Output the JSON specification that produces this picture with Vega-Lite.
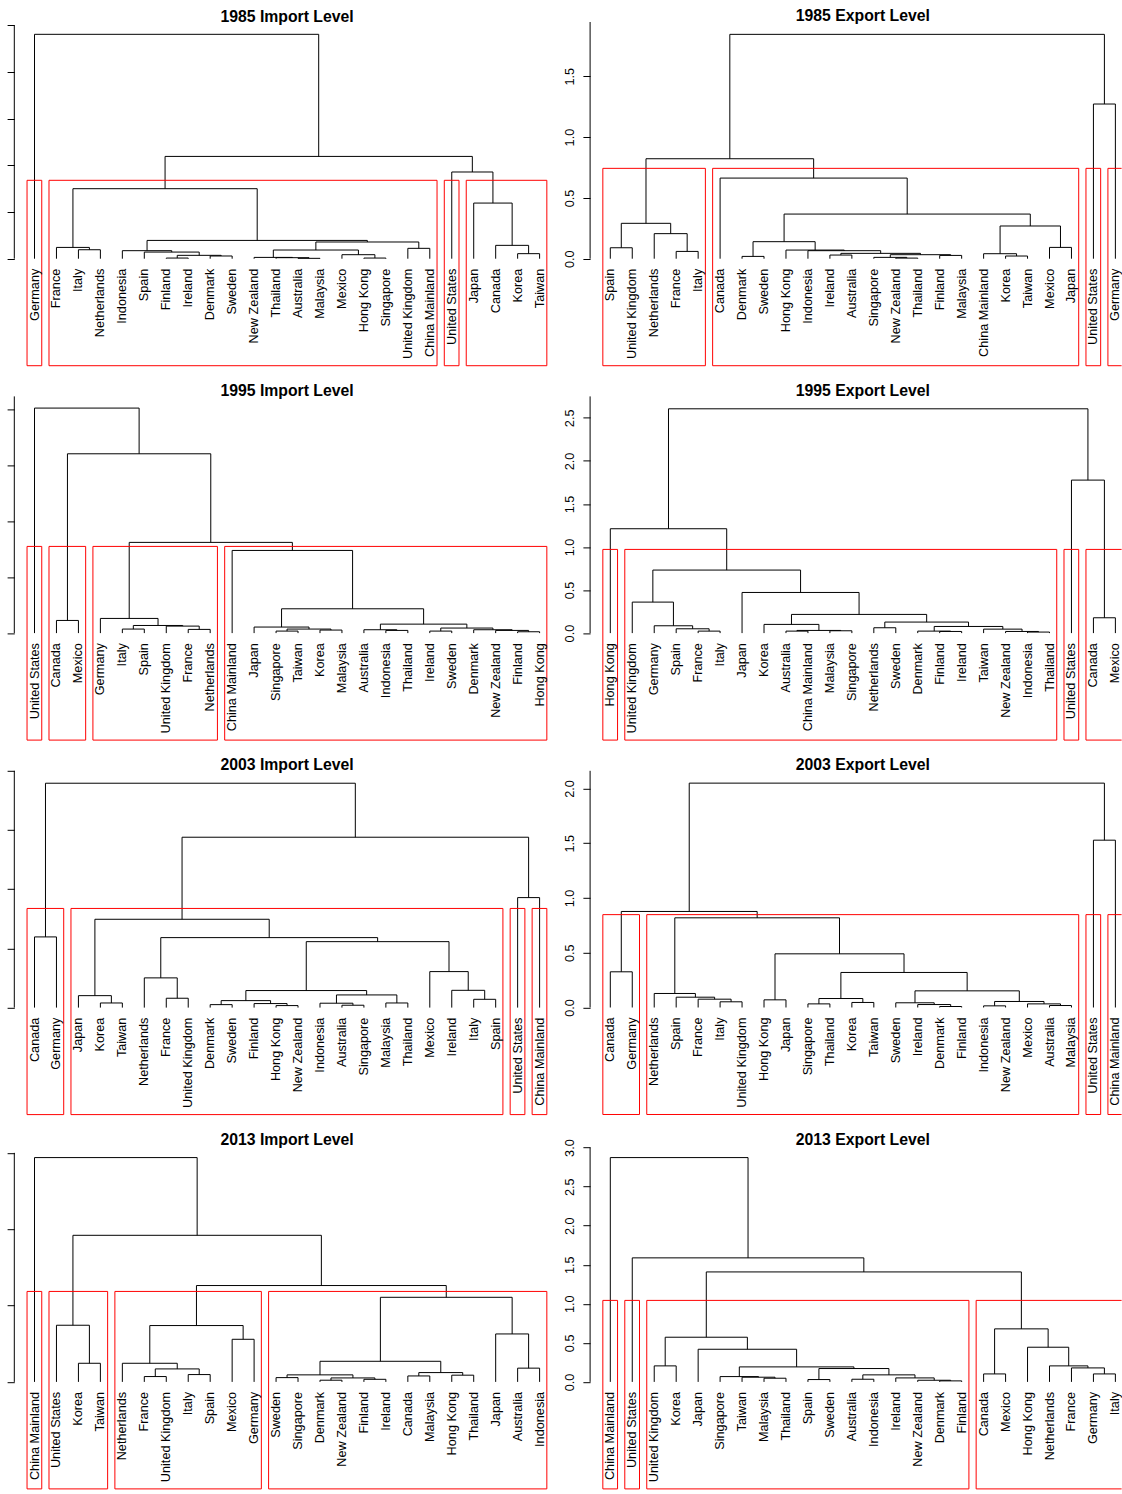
{
"$schema": "https://vega.github.io/schema/vega-lite/v6.json",
"background": "white",
"padding": {"left": 6.3, "top": 8, "right": 0, "bottom": 0},
"columns": 2,
"spacing": {"row": 28.4, "column": 29.8},
"bounds": "flush",
"config": {
 "view": {"stroke": null},
 "font": "Liberation Sans",
 "title": {"font": "Liberation Sans", "fontSize": 15.8, "fontWeight": "bold", "color": "black", "anchor": "middle", "baseline": "alphabetic", "offset": -3.5, "frame": "group"},
 "axis": {"domain": false, "grid": false, "ticks": true, "tickColor": "black", "tickSize": 7.2, "tickWidth": 1, "labelFont": "Liberation Sans", "labelFontSize": 12.7, "labelColor": "black", "title": null}
},
"datasets": {
"merges": [
{"p":"A","xl":3,"xr":4,"h":0.096,"hl":0,"hr":0},
{"p":"A","xl":2,"xr":3.5,"h":0.121,"hl":0,"hr":0.096},
{"p":"A","xl":7,"xr":8,"h":0.007,"hl":0,"hr":0},
{"p":"A","xl":9,"xr":10,"h":0.029,"hl":0,"hr":0},
{"p":"A","xl":7.5,"xr":9.5,"h":0.036,"hl":0.007,"hr":0.029},
{"p":"A","xl":6,"xr":8.5,"h":0.071,"hl":0,"hr":0.036},
{"p":"A","xl":5,"xr":7.25,"h":0.086,"hl":0,"hr":0.071},
{"p":"A","xl":13,"xr":14,"h":0.004,"hl":0,"hr":0},
{"p":"A","xl":12,"xr":13.5,"h":0.011,"hl":0,"hr":0.004},
{"p":"A","xl":11,"xr":12.75,"h":0.014,"hl":0,"hr":0.011},
{"p":"A","xl":16,"xr":17,"h":0.007,"hl":0,"hr":0},
{"p":"A","xl":15,"xr":16.5,"h":0.043,"hl":0,"hr":0.007},
{"p":"A","xl":11.875,"xr":15.75,"h":0.093,"hl":0.014,"hr":0.043},
{"p":"A","xl":18,"xr":19,"h":0.111,"hl":0,"hr":0},
{"p":"A","xl":13.8125,"xr":18.5,"h":0.179,"hl":0.093,"hr":0.111},
{"p":"A","xl":6.125,"xr":16.15625,"h":0.196,"hl":0.086,"hr":0.179},
{"p":"A","xl":2.75,"xr":11.140625,"h":0.75,"hl":0.121,"hr":0.196},
{"p":"A","xl":23,"xr":24,"h":0.054,"hl":0,"hr":0},
{"p":"A","xl":22,"xr":23.5,"h":0.143,"hl":0,"hr":0.054},
{"p":"A","xl":21,"xr":22.75,"h":0.596,"hl":0,"hr":0.143},
{"p":"A","xl":20,"xr":21.875,"h":0.929,"hl":0,"hr":0.596},
{"p":"A","xl":6.9453,"xr":20.9375,"h":1.096,"hl":0.75,"hr":0.929},
{"p":"A","xl":1,"xr":13.9414,"h":2.404,"hl":0,"hr":1.096},
{"p":"B","xl":1,"xr":2,"h":0.090,"hl":0,"hr":0},
{"p":"B","xl":4,"xr":5,"h":0.060,"hl":0,"hr":0},
{"p":"B","xl":3,"xr":4.5,"h":0.206,"hl":0,"hr":0.060},
{"p":"B","xl":1.5,"xr":3.75,"h":0.291,"hl":0.090,"hr":0.206},
{"p":"B","xl":7,"xr":8,"h":0.019,"hl":0,"hr":0},
{"p":"B","xl":11,"xr":12,"h":0.030,"hl":0,"hr":0},
{"p":"B","xl":14,"xr":15,"h":0.005,"hl":0,"hr":0},
{"p":"B","xl":13,"xr":14.5,"h":0.011,"hl":0,"hr":0.005},
{"p":"B","xl":16,"xr":17,"h":0.027,"hl":0,"hr":0},
{"p":"B","xl":13.75,"xr":16.5,"h":0.033,"hl":0.011,"hr":0.027},
{"p":"B","xl":11.5,"xr":15.125,"h":0.044,"hl":0.030,"hr":0.033},
{"p":"B","xl":10,"xr":13.3125,"h":0.066,"hl":0,"hr":0.044},
{"p":"B","xl":9,"xr":11.65625,"h":0.071,"hl":0,"hr":0.066},
{"p":"B","xl":7.5,"xr":10.328,"h":0.140,"hl":0.019,"hr":0.071},
{"p":"B","xl":19,"xr":20,"h":0.022,"hl":0,"hr":0},
{"p":"B","xl":18,"xr":19.5,"h":0.041,"hl":0,"hr":0.022},
{"p":"B","xl":21,"xr":22,"h":0.093,"hl":0,"hr":0},
{"p":"B","xl":18.75,"xr":21.5,"h":0.269,"hl":0.041,"hr":0.093},
{"p":"B","xl":8.914,"xr":20.125,"h":0.367,"hl":0.140,"hr":0.269},
{"p":"B","xl":6,"xr":14.52,"h":0.663,"hl":0,"hr":0.367},
{"p":"B","xl":2.625,"xr":10.26,"h":0.822,"hl":0.291,"hr":0.663},
{"p":"B","xl":23,"xr":24,"h":1.272,"hl":0,"hr":0},
{"p":"B","xl":6.4425,"xr":23.5,"h":1.845,"hl":0.822,"hr":1.272},
{"p":"C","xl":2,"xr":3,"h":0.113,"hl":0,"hr":0},
{"p":"C","xl":5,"xr":6,"h":0.036,"hl":0,"hr":0},
{"p":"C","xl":8,"xr":9,"h":0.033,"hl":0,"hr":0},
{"p":"C","xl":7,"xr":8.5,"h":0.0625,"hl":0,"hr":0.033},
{"p":"C","xl":5.5,"xr":7.75,"h":0.068,"hl":0.036,"hr":0.0625},
{"p":"C","xl":4,"xr":6.625,"h":0.131,"hl":0,"hr":0.068},
{"p":"C","xl":12,"xr":13,"h":0.018,"hl":0,"hr":0},
{"p":"C","xl":14,"xr":15,"h":0.027,"hl":0,"hr":0},
{"p":"C","xl":12.5,"xr":14.5,"h":0.036,"hl":0.018,"hr":0.027},
{"p":"C","xl":11,"xr":13.5,"h":0.054,"hl":0,"hr":0.036},
{"p":"C","xl":17,"xr":18,"h":0.024,"hl":0,"hr":0},
{"p":"C","xl":16,"xr":17.5,"h":0.030,"hl":0,"hr":0.024},
{"p":"C","xl":19,"xr":20,"h":0.018,"hl":0,"hr":0},
{"p":"C","xl":23,"xr":24,"h":0.012,"hl":0,"hr":0},
{"p":"C","xl":22,"xr":23.5,"h":0.024,"hl":0,"hr":0.012},
{"p":"C","xl":21,"xr":22.75,"h":0.030,"hl":0,"hr":0.024},
{"p":"C","xl":19.5,"xr":21.875,"h":0.045,"hl":0.018,"hr":0.030},
{"p":"C","xl":16.75,"xr":20.6875,"h":0.080,"hl":0.030,"hr":0.045},
{"p":"C","xl":12.25,"xr":18.71875,"h":0.217,"hl":0.054,"hr":0.080},
{"p":"C","xl":10,"xr":15.484,"h":0.738,"hl":0,"hr":0.217},
{"p":"C","xl":5.3125,"xr":12.742,"h":0.810,"hl":0.131,"hr":0.738},
{"p":"C","xl":2.5,"xr":9.027,"h":1.601,"hl":0.113,"hr":0.810},
{"p":"C","xl":1,"xr":5.764,"h":2.009,"hl":0,"hr":1.601},
{"p":"D","xl":5,"xr":6,"h":0.023,"hl":0,"hr":0},
{"p":"D","xl":4,"xr":5.5,"h":0.050,"hl":0,"hr":0.023},
{"p":"D","xl":3,"xr":4.75,"h":0.085,"hl":0,"hr":0.050},
{"p":"D","xl":2,"xr":3.875,"h":0.360,"hl":0,"hr":0.085},
{"p":"D","xl":9,"xr":10,"h":0.023,"hl":0,"hr":0},
{"p":"D","xl":11,"xr":12,"h":0.027,"hl":0,"hr":0},
{"p":"D","xl":9.5,"xr":11.5,"h":0.031,"hl":0.023,"hr":0.027},
{"p":"D","xl":8,"xr":10.5,"h":0.101,"hl":0,"hr":0.031},
{"p":"D","xl":13,"xr":14,"h":0.062,"hl":0,"hr":0},
{"p":"D","xl":16,"xr":17,"h":0.019,"hl":0,"hr":0},
{"p":"D","xl":15,"xr":16.5,"h":0.023,"hl":0,"hr":0.019},
{"p":"D","xl":20,"xr":21,"h":0.012,"hl":0,"hr":0},
{"p":"D","xl":19,"xr":20.5,"h":0.019,"hl":0,"hr":0.012},
{"p":"D","xl":18,"xr":19.75,"h":0.046,"hl":0,"hr":0.019},
{"p":"D","xl":15.75,"xr":18.875,"h":0.077,"hl":0.023,"hr":0.046},
{"p":"D","xl":13.5,"xr":17.3125,"h":0.128,"hl":0.062,"hr":0.077},
{"p":"D","xl":9.25,"xr":15.406,"h":0.217,"hl":0.101,"hr":0.128},
{"p":"D","xl":7,"xr":12.328,"h":0.472,"hl":0,"hr":0.217},
{"p":"D","xl":2.9375,"xr":9.664,"h":0.732,"hl":0.360,"hr":0.472},
{"p":"D","xl":1,"xr":6.301,"h":1.212,"hl":0,"hr":0.732},
{"p":"D","xl":23,"xr":24,"h":0.178,"hl":0,"hr":0},
{"p":"D","xl":22,"xr":23.5,"h":1.777,"hl":0,"hr":0.178},
{"p":"D","xl":3.65,"xr":22.75,"h":2.605,"hl":1.212,"hr":1.777},
{"p":"E","xl":1,"xr":2,"h":0.597,"hl":0,"hr":0},
{"p":"E","xl":4,"xr":5,"h":0.039,"hl":0,"hr":0},
{"p":"E","xl":3,"xr":4.5,"h":0.101,"hl":0,"hr":0.039},
{"p":"E","xl":7,"xr":8,"h":0.079,"hl":0,"hr":0},
{"p":"E","xl":6,"xr":7.5,"h":0.251,"hl":0,"hr":0.079},
{"p":"E","xl":9,"xr":10,"h":0.025,"hl":0,"hr":0},
{"p":"E","xl":12,"xr":13,"h":0.017,"hl":0,"hr":0},
{"p":"E","xl":11,"xr":12.5,"h":0.034,"hl":0,"hr":0.017},
{"p":"E","xl":9.5,"xr":11.75,"h":0.059,"hl":0.025,"hr":0.034},
{"p":"E","xl":15,"xr":16,"h":0.020,"hl":0,"hr":0},
{"p":"E","xl":14,"xr":15.5,"h":0.037,"hl":0,"hr":0.020},
{"p":"E","xl":17,"xr":18,"h":0.039,"hl":0,"hr":0},
{"p":"E","xl":14.75,"xr":17.5,"h":0.107,"hl":0.037,"hr":0.039},
{"p":"E","xl":10.625,"xr":16.125,"h":0.144,"hl":0.059,"hr":0.107},
{"p":"E","xl":21,"xr":22,"h":0.070,"hl":0,"hr":0},
{"p":"E","xl":20,"xr":21.5,"h":0.146,"hl":0,"hr":0.070},
{"p":"E","xl":19,"xr":20.75,"h":0.304,"hl":0,"hr":0.146},
{"p":"E","xl":13.375,"xr":19.875,"h":0.557,"hl":0.144,"hr":0.304},
{"p":"E","xl":6.75,"xr":16.625,"h":0.591,"hl":0.251,"hr":0.557},
{"p":"E","xl":3.75,"xr":11.6875,"h":0.746,"hl":0.101,"hr":0.591},
{"p":"E","xl":23,"xr":24,"h":0.929,"hl":0,"hr":0},
{"p":"E","xl":7.71875,"xr":23.5,"h":1.439,"hl":0.746,"hr":0.929},
{"p":"E","xl":1.5,"xr":15.609,"h":1.895,"hl":0.597,"hr":1.439},
{"p":"F","xl":1,"xr":2,"h":0.326,"hl":0,"hr":0},
{"p":"F","xl":6,"xr":7,"h":0.052,"hl":0,"hr":0},
{"p":"F","xl":5,"xr":6.5,"h":0.076,"hl":0,"hr":0.052},
{"p":"F","xl":4,"xr":5.75,"h":0.094,"hl":0,"hr":0.076},
{"p":"F","xl":3,"xr":4.875,"h":0.128,"hl":0,"hr":0.094},
{"p":"F","xl":8,"xr":9,"h":0.070,"hl":0,"hr":0},
{"p":"F","xl":10,"xr":11,"h":0.033,"hl":0,"hr":0},
{"p":"F","xl":12,"xr":13,"h":0.046,"hl":0,"hr":0},
{"p":"F","xl":10.5,"xr":12.5,"h":0.082,"hl":0.033,"hr":0.046},
{"p":"F","xl":16,"xr":17,"h":0.009,"hl":0,"hr":0},
{"p":"F","xl":15,"xr":16.5,"h":0.027,"hl":0,"hr":0.009},
{"p":"F","xl":14,"xr":15.75,"h":0.043,"hl":0,"hr":0.027},
{"p":"F","xl":21,"xr":22,"h":0.018,"hl":0,"hr":0},
{"p":"F","xl":20,"xr":21.5,"h":0.033,"hl":0,"hr":0.018},
{"p":"F","xl":18,"xr":19,"h":0.015,"hl":0,"hr":0},
{"p":"F","xl":18.5,"xr":20.75,"h":0.055,"hl":0.015,"hr":0.033},
{"p":"F","xl":14.875,"xr":19.625,"h":0.152,"hl":0.043,"hr":0.055},
{"p":"F","xl":11.5,"xr":17.25,"h":0.320,"hl":0.082,"hr":0.152},
{"p":"F","xl":8.5,"xr":14.375,"h":0.490,"hl":0.070,"hr":0.320},
{"p":"F","xl":3.9375,"xr":11.4375,"h":0.819,"hl":0.128,"hr":0.490},
{"p":"F","xl":1.5,"xr":7.6875,"h":0.877,"hl":0.326,"hr":0.819},
{"p":"F","xl":23,"xr":24,"h":1.528,"hl":0,"hr":0},
{"p":"F","xl":4.59375,"xr":23.5,"h":2.049,"hl":0.877,"hr":1.528},
{"p":"G","xl":3,"xr":4,"h":0.122,"hl":0,"hr":0},
{"p":"G","xl":2,"xr":3.5,"h":0.371,"hl":0,"hr":0.122},
{"p":"G","xl":6,"xr":7,"h":0.035,"hl":0,"hr":0},
{"p":"G","xl":8,"xr":9,"h":0.048,"hl":0,"hr":0},
{"p":"G","xl":6.5,"xr":8.5,"h":0.085,"hl":0.035,"hr":0.048},
{"p":"G","xl":5,"xr":7.5,"h":0.122,"hl":0,"hr":0.085},
{"p":"G","xl":10,"xr":11,"h":0.279,"hl":0,"hr":0},
{"p":"G","xl":6.25,"xr":10.5,"h":0.369,"hl":0.122,"hr":0.279},
{"p":"G","xl":12,"xr":13,"h":0.028,"hl":0,"hr":0},
{"p":"G","xl":14,"xr":15,"h":0.011,"hl":0,"hr":0},
{"p":"G","xl":16,"xr":17,"h":0.017,"hl":0,"hr":0},
{"p":"G","xl":14.5,"xr":16.5,"h":0.026,"hl":0.011,"hr":0.017},
{"p":"G","xl":12.5,"xr":15.5,"h":0.046,"hl":0.028,"hr":0.026},
{"p":"G","xl":18,"xr":19,"h":0.039,"hl":0,"hr":0},
{"p":"G","xl":20,"xr":21,"h":0.044,"hl":0,"hr":0},
{"p":"G","xl":18.5,"xr":20.5,"h":0.061,"hl":0.039,"hr":0.044},
{"p":"G","xl":14,"xr":19.5,"h":0.135,"hl":0.046,"hr":0.061},
{"p":"G","xl":23,"xr":24,"h":0.090,"hl":0,"hr":0},
{"p":"G","xl":22,"xr":23.5,"h":0.314,"hl":0,"hr":0.090},
{"p":"G","xl":16.75,"xr":22.75,"h":0.554,"hl":0.135,"hr":0.314},
{"p":"G","xl":8.375,"xr":19.75,"h":0.631,"hl":0.369,"hr":0.554},
{"p":"G","xl":2.75,"xr":14.0625,"h":0.960,"hl":0.371,"hr":0.631},
{"p":"G","xl":1,"xr":8.40625,"h":1.469,"hl":0,"hr":0.960},
{"p":"H","xl":3,"xr":4,"h":0.205,"hl":0,"hr":0},
{"p":"H","xl":8,"xr":9,"h":0.047,"hl":0,"hr":0},
{"p":"H","xl":7,"xr":8.5,"h":0.060,"hl":0,"hr":0.047},
{"p":"H","xl":6,"xr":7.75,"h":0.068,"hl":0,"hr":0.060},
{"p":"H","xl":10,"xr":11,"h":0.030,"hl":0,"hr":0},
{"p":"H","xl":12,"xr":13,"h":0.034,"hl":0,"hr":0},
{"p":"H","xl":16,"xr":17,"h":0.013,"hl":0,"hr":0},
{"p":"H","xl":15,"xr":16.5,"h":0.021,"hl":0,"hr":0.013},
{"p":"H","xl":14,"xr":15.75,"h":0.051,"hl":0,"hr":0.021},
{"p":"H","xl":12.5,"xr":14.875,"h":0.090,"hl":0.034,"hr":0.051},
{"p":"H","xl":10.5,"xr":13.6875,"h":0.171,"hl":0.030,"hr":0.090},
{"p":"H","xl":6.875,"xr":12.09375,"h":0.192,"hl":0.068,"hr":0.171},
{"p":"H","xl":5,"xr":9.484,"h":0.418,"hl":0,"hr":0.192},
{"p":"H","xl":3.5,"xr":7.242,"h":0.572,"hl":0.205,"hr":0.418},
{"p":"H","xl":18,"xr":19,"h":0.102,"hl":0,"hr":0},
{"p":"H","xl":23,"xr":24,"h":0.102,"hl":0,"hr":0},
{"p":"H","xl":22,"xr":23.5,"h":0.179,"hl":0,"hr":0.102},
{"p":"H","xl":21,"xr":22.75,"h":0.205,"hl":0,"hr":0.179},
{"p":"H","xl":20,"xr":21.875,"h":0.444,"hl":0,"hr":0.205},
{"p":"H","xl":18.5,"xr":20.9375,"h":0.679,"hl":0.102,"hr":0.444},
{"p":"H","xl":5.371,"xr":19.71875,"h":1.408,"hl":0.572,"hr":0.679},
{"p":"H","xl":2,"xr":12.545,"h":1.588,"hl":0,"hr":1.408},
{"p":"H","xl":1,"xr":7.2725,"h":2.872,"hl":0,"hr":1.588}
],
"boxes": [
{"p":"A","a":0.66,"b":1.33,"top":0.84},{"p":"A","a":1.66,"b":19.33,"top":0.84},{"p":"A","a":19.66,"b":20.33,"top":0.84},{"p":"A","a":20.66,"b":24.33,"top":0.84},
{"p":"B","a":0.66,"b":5.33,"top":0.743},{"p":"B","a":5.66,"b":22.33,"top":0.743},{"p":"B","a":22.66,"b":23.33,"top":0.743},{"p":"B","a":23.66,"b":24.33,"top":0.743},
{"p":"C","a":0.66,"b":1.33,"top":0.774},{"p":"C","a":1.66,"b":3.33,"top":0.774},{"p":"C","a":3.66,"b":9.33,"top":0.774},{"p":"C","a":9.66,"b":24.33,"top":0.774},
{"p":"D","a":0.66,"b":1.33,"top":0.972},{"p":"D","a":1.66,"b":21.33,"top":0.972},{"p":"D","a":21.66,"b":22.33,"top":0.972},{"p":"D","a":22.66,"b":24.33,"top":0.972},
{"p":"E","a":0.66,"b":2.33,"top":0.8375},{"p":"E","a":2.66,"b":22.33,"top":0.8375},{"p":"E","a":22.66,"b":23.33,"top":0.8375},{"p":"E","a":23.66,"b":24.33,"top":0.8375},
{"p":"F","a":0.66,"b":2.33,"top":0.848},{"p":"F","a":2.66,"b":22.33,"top":0.848},{"p":"F","a":22.66,"b":23.33,"top":0.848},{"p":"F","a":23.66,"b":24.33,"top":0.848},
{"p":"G","a":0.66,"b":1.33,"top":0.5925},{"p":"G","a":1.66,"b":4.33,"top":0.5925},{"p":"G","a":4.66,"b":11.33,"top":0.5925},{"p":"G","a":11.66,"b":24.33,"top":0.5925},
{"p":"H","a":0.66,"b":1.33,"top":1.0435},{"p":"H","a":1.66,"b":2.33,"top":1.0435},{"p":"H","a":2.66,"b":17.33,"top":1.0435},{"p":"H","a":17.66,"b":24.33,"top":1.0435}
],
"axes": [
{"p":"A","top":2.5},{"p":"B","top":1.9465},{"p":"C","top":2.1134},{"p":"D","top":2.7491},
{"p":"E","top":2.0},{"p":"F","top":2.1616},{"p":"G","top":1.5},{"p":"H","top":3.0}
],
"leaves": [
{"p":"A","i":1,"name":"Germany"},{"p":"A","i":2,"name":"France"},{"p":"A","i":3,"name":"Italy"},{"p":"A","i":4,"name":"Netherlands"},{"p":"A","i":5,"name":"Indonesia"},{"p":"A","i":6,"name":"Spain"},{"p":"A","i":7,"name":"Finland"},{"p":"A","i":8,"name":"Ireland"},{"p":"A","i":9,"name":"Denmark"},{"p":"A","i":10,"name":"Sweden"},{"p":"A","i":11,"name":"New Zealand"},{"p":"A","i":12,"name":"Thailand"},{"p":"A","i":13,"name":"Australia"},{"p":"A","i":14,"name":"Malaysia"},{"p":"A","i":15,"name":"Mexico"},{"p":"A","i":16,"name":"Hong Kong"},{"p":"A","i":17,"name":"Singapore"},{"p":"A","i":18,"name":"United Kingdom"},{"p":"A","i":19,"name":"China Mainland"},{"p":"A","i":20,"name":"United States"},{"p":"A","i":21,"name":"Japan"},{"p":"A","i":22,"name":"Canada"},{"p":"A","i":23,"name":"Korea"},{"p":"A","i":24,"name":"Taiwan"},
{"p":"B","i":1,"name":"Spain"},{"p":"B","i":2,"name":"United Kingdom"},{"p":"B","i":3,"name":"Netherlands"},{"p":"B","i":4,"name":"France"},{"p":"B","i":5,"name":"Italy"},{"p":"B","i":6,"name":"Canada"},{"p":"B","i":7,"name":"Denmark"},{"p":"B","i":8,"name":"Sweden"},{"p":"B","i":9,"name":"Hong Kong"},{"p":"B","i":10,"name":"Indonesia"},{"p":"B","i":11,"name":"Ireland"},{"p":"B","i":12,"name":"Australia"},{"p":"B","i":13,"name":"Singapore"},{"p":"B","i":14,"name":"New Zealand"},{"p":"B","i":15,"name":"Thailand"},{"p":"B","i":16,"name":"Finland"},{"p":"B","i":17,"name":"Malaysia"},{"p":"B","i":18,"name":"China Mainland"},{"p":"B","i":19,"name":"Korea"},{"p":"B","i":20,"name":"Taiwan"},{"p":"B","i":21,"name":"Mexico"},{"p":"B","i":22,"name":"Japan"},{"p":"B","i":23,"name":"United States"},{"p":"B","i":24,"name":"Germany"},
{"p":"C","i":1,"name":"United States"},{"p":"C","i":2,"name":"Canada"},{"p":"C","i":3,"name":"Mexico"},{"p":"C","i":4,"name":"Germany"},{"p":"C","i":5,"name":"Italy"},{"p":"C","i":6,"name":"Spain"},{"p":"C","i":7,"name":"United Kingdom"},{"p":"C","i":8,"name":"France"},{"p":"C","i":9,"name":"Netherlands"},{"p":"C","i":10,"name":"China Mainland"},{"p":"C","i":11,"name":"Japan"},{"p":"C","i":12,"name":"Singapore"},{"p":"C","i":13,"name":"Taiwan"},{"p":"C","i":14,"name":"Korea"},{"p":"C","i":15,"name":"Malaysia"},{"p":"C","i":16,"name":"Australia"},{"p":"C","i":17,"name":"Indonesia"},{"p":"C","i":18,"name":"Thailand"},{"p":"C","i":19,"name":"Ireland"},{"p":"C","i":20,"name":"Sweden"},{"p":"C","i":21,"name":"Denmark"},{"p":"C","i":22,"name":"New Zealand"},{"p":"C","i":23,"name":"Finland"},{"p":"C","i":24,"name":"Hong Kong"},
{"p":"D","i":1,"name":"Hong Kong"},{"p":"D","i":2,"name":"United Kingdom"},{"p":"D","i":3,"name":"Germany"},{"p":"D","i":4,"name":"Spain"},{"p":"D","i":5,"name":"France"},{"p":"D","i":6,"name":"Italy"},{"p":"D","i":7,"name":"Japan"},{"p":"D","i":8,"name":"Korea"},{"p":"D","i":9,"name":"Australia"},{"p":"D","i":10,"name":"China Mainland"},{"p":"D","i":11,"name":"Malaysia"},{"p":"D","i":12,"name":"Singapore"},{"p":"D","i":13,"name":"Netherlands"},{"p":"D","i":14,"name":"Sweden"},{"p":"D","i":15,"name":"Denmark"},{"p":"D","i":16,"name":"Finland"},{"p":"D","i":17,"name":"Ireland"},{"p":"D","i":18,"name":"Taiwan"},{"p":"D","i":19,"name":"New Zealand"},{"p":"D","i":20,"name":"Indonesia"},{"p":"D","i":21,"name":"Thailand"},{"p":"D","i":22,"name":"United States"},{"p":"D","i":23,"name":"Canada"},{"p":"D","i":24,"name":"Mexico"},
{"p":"E","i":1,"name":"Canada"},{"p":"E","i":2,"name":"Germany"},{"p":"E","i":3,"name":"Japan"},{"p":"E","i":4,"name":"Korea"},{"p":"E","i":5,"name":"Taiwan"},{"p":"E","i":6,"name":"Netherlands"},{"p":"E","i":7,"name":"France"},{"p":"E","i":8,"name":"United Kingdom"},{"p":"E","i":9,"name":"Denmark"},{"p":"E","i":10,"name":"Sweden"},{"p":"E","i":11,"name":"Finland"},{"p":"E","i":12,"name":"Hong Kong"},{"p":"E","i":13,"name":"New Zealand"},{"p":"E","i":14,"name":"Indonesia"},{"p":"E","i":15,"name":"Australia"},{"p":"E","i":16,"name":"Singapore"},{"p":"E","i":17,"name":"Malaysia"},{"p":"E","i":18,"name":"Thailand"},{"p":"E","i":19,"name":"Mexico"},{"p":"E","i":20,"name":"Ireland"},{"p":"E","i":21,"name":"Italy"},{"p":"E","i":22,"name":"Spain"},{"p":"E","i":23,"name":"United States"},{"p":"E","i":24,"name":"China Mainland"},
{"p":"F","i":1,"name":"Canada"},{"p":"F","i":2,"name":"Germany"},{"p":"F","i":3,"name":"Netherlands"},{"p":"F","i":4,"name":"Spain"},{"p":"F","i":5,"name":"France"},{"p":"F","i":6,"name":"Italy"},{"p":"F","i":7,"name":"United Kingdom"},{"p":"F","i":8,"name":"Hong Kong"},{"p":"F","i":9,"name":"Japan"},{"p":"F","i":10,"name":"Singapore"},{"p":"F","i":11,"name":"Thailand"},{"p":"F","i":12,"name":"Korea"},{"p":"F","i":13,"name":"Taiwan"},{"p":"F","i":14,"name":"Sweden"},{"p":"F","i":15,"name":"Ireland"},{"p":"F","i":16,"name":"Denmark"},{"p":"F","i":17,"name":"Finland"},{"p":"F","i":18,"name":"Indonesia"},{"p":"F","i":19,"name":"New Zealand"},{"p":"F","i":20,"name":"Mexico"},{"p":"F","i":21,"name":"Australia"},{"p":"F","i":22,"name":"Malaysia"},{"p":"F","i":23,"name":"United States"},{"p":"F","i":24,"name":"China Mainland"},
{"p":"G","i":1,"name":"China Mainland"},{"p":"G","i":2,"name":"United States"},{"p":"G","i":3,"name":"Korea"},{"p":"G","i":4,"name":"Taiwan"},{"p":"G","i":5,"name":"Netherlands"},{"p":"G","i":6,"name":"France"},{"p":"G","i":7,"name":"United Kingdom"},{"p":"G","i":8,"name":"Italy"},{"p":"G","i":9,"name":"Spain"},{"p":"G","i":10,"name":"Mexico"},{"p":"G","i":11,"name":"Germany"},{"p":"G","i":12,"name":"Sweden"},{"p":"G","i":13,"name":"Singapore"},{"p":"G","i":14,"name":"Denmark"},{"p":"G","i":15,"name":"New Zealand"},{"p":"G","i":16,"name":"Finland"},{"p":"G","i":17,"name":"Ireland"},{"p":"G","i":18,"name":"Canada"},{"p":"G","i":19,"name":"Malaysia"},{"p":"G","i":20,"name":"Hong Kong"},{"p":"G","i":21,"name":"Thailand"},{"p":"G","i":22,"name":"Japan"},{"p":"G","i":23,"name":"Australia"},{"p":"G","i":24,"name":"Indonesia"},
{"p":"H","i":1,"name":"China Mainland"},{"p":"H","i":2,"name":"United States"},{"p":"H","i":3,"name":"United Kingdom"},{"p":"H","i":4,"name":"Korea"},{"p":"H","i":5,"name":"Japan"},{"p":"H","i":6,"name":"Singapore"},{"p":"H","i":7,"name":"Taiwan"},{"p":"H","i":8,"name":"Malaysia"},{"p":"H","i":9,"name":"Thailand"},{"p":"H","i":10,"name":"Spain"},{"p":"H","i":11,"name":"Sweden"},{"p":"H","i":12,"name":"Australia"},{"p":"H","i":13,"name":"Indonesia"},{"p":"H","i":14,"name":"Ireland"},{"p":"H","i":15,"name":"New Zealand"},{"p":"H","i":16,"name":"Denmark"},{"p":"H","i":17,"name":"Finland"},{"p":"H","i":18,"name":"Canada"},{"p":"H","i":19,"name":"Mexico"},{"p":"H","i":20,"name":"Hong Kong"},{"p":"H","i":21,"name":"Netherlands"},{"p":"H","i":22,"name":"France"},{"p":"H","i":23,"name":"Germany"},{"p":"H","i":24,"name":"Italy"}
]
},
"concat": [
{"width": 545.5, "height": 346, "title": {"text": "1985 Import Level"},
 "layer": [
  {"data": {"name": "merges"}, "transform": [{"filter": "datum.p == 'A'"}], "mark": {"type": "rule", "color": "black", "strokeWidth": 1},
   "encoding": {"x": {"field": "xl", "type": "quantitative", "scale": {"domain": [0.08, 24.92], "nice": false, "zero": false}, "axis": null}, "x2": {"field": "xr"},
    "y": {"field": "h", "type": "quantitative", "scale": {"domain": [-1.171, 2.536], "nice": false, "zero": false}, "axis": {"values": [0, 0.5, 1, 1.5, 2, 2.5], "labels": false, "title": null}}}},
  {"data": {"name": "merges"}, "transform": [{"filter": "datum.p == 'A'"}], "mark": {"type": "rule", "color": "black", "strokeWidth": 1},
   "encoding": {"x": {"field": "xl", "type": "quantitative", "axis": null}, "y": {"field": "hl", "type": "quantitative", "title": null}, "y2": {"field": "h"}}},
  {"data": {"name": "merges"}, "transform": [{"filter": "datum.p == 'A'"}], "mark": {"type": "rule", "color": "black", "strokeWidth": 1},
   "encoding": {"x": {"field": "xr", "type": "quantitative", "axis": null}, "y": {"field": "hr", "type": "quantitative", "title": null}, "y2": {"field": "h"}}},
  {"data": {"name": "boxes"}, "transform": [{"filter": "datum.p == 'A'"}], "mark": {"type": "rect", "filled": false, "color": "#FF0000", "strokeWidth": 1},
   "encoding": {"x": {"field": "a", "type": "quantitative", "axis": null}, "x2": {"field": "b"}, "y": {"field": "top", "type": "quantitative", "title": null}, "y2": {"datum": -1.1465}}},
  {"data": {"name": "leaves"}, "transform": [{"filter": "datum.p == 'A'"}], "mark": {"type": "text", "angle": 270, "align": "right", "baseline": "middle", "yOffset": 10, "fontSize": 12.7, "color": "black", "font": "Liberation Sans"},
   "encoding": {"x": {"field": "i", "type": "quantitative", "axis": null}, "y": {"datum": 0, "type": "quantitative", "title": null}, "text": {"field": "name"}}},
  {"data": {"name": "axes"}, "transform": [{"filter": "datum.p == 'A'"}], "mark": {"type": "rule", "color": "black", "strokeWidth": 1},
   "encoding": {"x": {"datum": 0.08, "type": "quantitative", "axis": null}, "y": {"field": "top", "type": "quantitative", "title": null}, "y2": {"datum": 0}}}
 ]},
{"width": 531.5, "height": 346, "title": {"text": "1985 Export Level", "dx": 7},
 "layer": [
  {"data": {"name": "merges"}, "transform": [{"filter": "datum.p == 'B'"}], "mark": {"type": "rule", "color": "black", "strokeWidth": 1},
   "encoding": {"x": {"field": "xl", "type": "quantitative", "scale": {"domain": [0.08, 24.283], "nice": false, "zero": false}, "axis": null}, "x2": {"field": "xr"},
    "y": {"field": "h", "type": "quantitative", "scale": {"domain": [-0.8988, 1.9465], "nice": false, "zero": false}, "axis": {"values": [0, 0.5, 1, 1.5], "labels": true, "labelAngle": 270, "labelAlign": "center", "labelBaseline": "alphabetic", "labelPadding": 9, "format": ".1f", "labelFlush": false, "labelOverlap": false, "title": null}}}},
  {"data": {"name": "merges"}, "transform": [{"filter": "datum.p == 'B'"}], "mark": {"type": "rule", "color": "black", "strokeWidth": 1},
   "encoding": {"x": {"field": "xl", "type": "quantitative", "axis": null}, "y": {"field": "hl", "type": "quantitative", "title": null}, "y2": {"field": "h"}}},
  {"data": {"name": "merges"}, "transform": [{"filter": "datum.p == 'B'"}], "mark": {"type": "rule", "color": "black", "strokeWidth": 1},
   "encoding": {"x": {"field": "xr", "type": "quantitative", "axis": null}, "y": {"field": "hr", "type": "quantitative", "title": null}, "y2": {"field": "h"}}},
  {"data": {"name": "boxes"}, "transform": [{"filter": "datum.p == 'B'"}], "mark": {"type": "rect", "filled": false, "color": "#FF0000", "strokeWidth": 1, "clip": true},
   "encoding": {"x": {"field": "a", "type": "quantitative", "axis": null}, "x2": {"field": "b"}, "y": {"field": "top", "type": "quantitative", "title": null}, "y2": {"datum": -0.880}}},
  {"data": {"name": "leaves"}, "transform": [{"filter": "datum.p == 'B'"}], "mark": {"type": "text", "angle": 270, "align": "right", "baseline": "middle", "yOffset": 10, "fontSize": 12.7, "color": "black", "font": "Liberation Sans"},
   "encoding": {"x": {"field": "i", "type": "quantitative", "axis": null}, "y": {"datum": 0, "type": "quantitative", "title": null}, "text": {"field": "name"}}},
  {"data": {"name": "axes"}, "transform": [{"filter": "datum.p == 'B'"}], "mark": {"type": "rule", "color": "black", "strokeWidth": 1},
   "encoding": {"x": {"datum": 0.08, "type": "quantitative", "axis": null}, "y": {"field": "top", "type": "quantitative", "title": null}, "y2": {"datum": 0}}}
 ]},
{"width": 545.5, "height": 346, "title": {"text": "1995 Import Level"},
 "layer": [
  {"data": {"name": "merges"}, "transform": [{"filter": "datum.p == 'C'"}], "mark": {"type": "rule", "color": "black", "strokeWidth": 1},
   "encoding": {"x": {"field": "xl", "type": "quantitative", "scale": {"domain": [0.08, 24.92], "nice": false, "zero": false}, "axis": null}, "x2": {"field": "xr"},
    "y": {"field": "h", "type": "quantitative", "scale": {"domain": [-0.9759, 2.1134], "nice": false, "zero": false}, "axis": {"values": [0, 0.5, 1, 1.5, 2], "labels": false, "title": null}}}},
  {"data": {"name": "merges"}, "transform": [{"filter": "datum.p == 'C'"}], "mark": {"type": "rule", "color": "black", "strokeWidth": 1},
   "encoding": {"x": {"field": "xl", "type": "quantitative", "axis": null}, "y": {"field": "hl", "type": "quantitative", "title": null}, "y2": {"field": "h"}}},
  {"data": {"name": "merges"}, "transform": [{"filter": "datum.p == 'C'"}], "mark": {"type": "rule", "color": "black", "strokeWidth": 1},
   "encoding": {"x": {"field": "xr", "type": "quantitative", "axis": null}, "y": {"field": "hr", "type": "quantitative", "title": null}, "y2": {"field": "h"}}},
  {"data": {"name": "boxes"}, "transform": [{"filter": "datum.p == 'C'"}], "mark": {"type": "rect", "filled": false, "color": "#FF0000", "strokeWidth": 1},
   "encoding": {"x": {"field": "a", "type": "quantitative", "axis": null}, "x2": {"field": "b"}, "y": {"field": "top", "type": "quantitative", "title": null}, "y2": {"datum": -0.9554}}},
  {"data": {"name": "leaves"}, "transform": [{"filter": "datum.p == 'C'"}], "mark": {"type": "text", "angle": 270, "align": "right", "baseline": "middle", "yOffset": 10, "fontSize": 12.7, "color": "black", "font": "Liberation Sans"},
   "encoding": {"x": {"field": "i", "type": "quantitative", "axis": null}, "y": {"datum": 0, "type": "quantitative", "title": null}, "text": {"field": "name"}}},
  {"data": {"name": "axes"}, "transform": [{"filter": "datum.p == 'C'"}], "mark": {"type": "rule", "color": "black", "strokeWidth": 1},
   "encoding": {"x": {"datum": 0.08, "type": "quantitative", "axis": null}, "y": {"field": "top", "type": "quantitative", "title": null}, "y2": {"datum": 0}}}
 ]},
{"width": 531.5, "height": 346, "title": {"text": "1995 Export Level", "dx": 7},
 "layer": [
  {"data": {"name": "merges"}, "transform": [{"filter": "datum.p == 'D'"}], "mark": {"type": "rule", "color": "black", "strokeWidth": 1},
   "encoding": {"x": {"field": "xl", "type": "quantitative", "scale": {"domain": [0.08, 24.283], "nice": false, "zero": false}, "axis": null}, "x2": {"field": "xr"},
    "y": {"field": "h", "type": "quantitative", "scale": {"domain": [-1.2695, 2.7491], "nice": false, "zero": false}, "axis": {"values": [0, 0.5, 1, 1.5, 2, 2.5], "labels": true, "labelAngle": 270, "labelAlign": "center", "labelBaseline": "alphabetic", "labelPadding": 9, "format": ".1f", "labelFlush": false, "labelOverlap": false, "title": null}}}},
  {"data": {"name": "merges"}, "transform": [{"filter": "datum.p == 'D'"}], "mark": {"type": "rule", "color": "black", "strokeWidth": 1},
   "encoding": {"x": {"field": "xl", "type": "quantitative", "axis": null}, "y": {"field": "hl", "type": "quantitative", "title": null}, "y2": {"field": "h"}}},
  {"data": {"name": "merges"}, "transform": [{"filter": "datum.p == 'D'"}], "mark": {"type": "rule", "color": "black", "strokeWidth": 1},
   "encoding": {"x": {"field": "xr", "type": "quantitative", "axis": null}, "y": {"field": "hr", "type": "quantitative", "title": null}, "y2": {"field": "h"}}},
  {"data": {"name": "boxes"}, "transform": [{"filter": "datum.p == 'D'"}], "mark": {"type": "rect", "filled": false, "color": "#FF0000", "strokeWidth": 1, "clip": true},
   "encoding": {"x": {"field": "a", "type": "quantitative", "axis": null}, "x2": {"field": "b"}, "y": {"field": "top", "type": "quantitative", "title": null}, "y2": {"datum": -1.2427}}},
  {"data": {"name": "leaves"}, "transform": [{"filter": "datum.p == 'D'"}], "mark": {"type": "text", "angle": 270, "align": "right", "baseline": "middle", "yOffset": 10, "fontSize": 12.7, "color": "black", "font": "Liberation Sans"},
   "encoding": {"x": {"field": "i", "type": "quantitative", "axis": null}, "y": {"datum": 0, "type": "quantitative", "title": null}, "text": {"field": "name"}}},
  {"data": {"name": "axes"}, "transform": [{"filter": "datum.p == 'D'"}], "mark": {"type": "rule", "color": "black", "strokeWidth": 1},
   "encoding": {"x": {"datum": 0.08, "type": "quantitative", "axis": null}, "y": {"field": "top", "type": "quantitative", "title": null}, "y2": {"datum": 0}}}
 ]},
{"width": 545.5, "height": 346, "title": {"text": "2003 Import Level"},
 "layer": [
  {"data": {"name": "merges"}, "transform": [{"filter": "datum.p == 'E'"}], "mark": {"type": "rule", "color": "black", "strokeWidth": 1},
   "encoding": {"x": {"field": "xl", "type": "quantitative", "scale": {"domain": [0.08, 24.92], "nice": false, "zero": false}, "axis": null}, "x2": {"field": "xr"},
    "y": {"field": "h", "type": "quantitative", "scale": {"domain": [-0.9223, 2.0], "nice": false, "zero": false}, "axis": {"values": [0, 0.5, 1, 1.5, 2], "labels": false, "title": null}}}},
  {"data": {"name": "merges"}, "transform": [{"filter": "datum.p == 'E'"}], "mark": {"type": "rule", "color": "black", "strokeWidth": 1},
   "encoding": {"x": {"field": "xl", "type": "quantitative", "axis": null}, "y": {"field": "hl", "type": "quantitative", "title": null}, "y2": {"field": "h"}}},
  {"data": {"name": "merges"}, "transform": [{"filter": "datum.p == 'E'"}], "mark": {"type": "rule", "color": "black", "strokeWidth": 1},
   "encoding": {"x": {"field": "xr", "type": "quantitative", "axis": null}, "y": {"field": "hr", "type": "quantitative", "title": null}, "y2": {"field": "h"}}},
  {"data": {"name": "boxes"}, "transform": [{"filter": "datum.p == 'E'"}], "mark": {"type": "rect", "filled": false, "color": "#FF0000", "strokeWidth": 1},
   "encoding": {"x": {"field": "a", "type": "quantitative", "axis": null}, "x2": {"field": "b"}, "y": {"field": "top", "type": "quantitative", "title": null}, "y2": {"datum": -0.9037}}},
  {"data": {"name": "leaves"}, "transform": [{"filter": "datum.p == 'E'"}], "mark": {"type": "text", "angle": 270, "align": "right", "baseline": "middle", "yOffset": 10, "fontSize": 12.7, "color": "black", "font": "Liberation Sans"},
   "encoding": {"x": {"field": "i", "type": "quantitative", "axis": null}, "y": {"datum": 0, "type": "quantitative", "title": null}, "text": {"field": "name"}}},
  {"data": {"name": "axes"}, "transform": [{"filter": "datum.p == 'E'"}], "mark": {"type": "rule", "color": "black", "strokeWidth": 1},
   "encoding": {"x": {"datum": 0.08, "type": "quantitative", "axis": null}, "y": {"field": "top", "type": "quantitative", "title": null}, "y2": {"datum": 0}}}
 ]},
{"width": 531.5, "height": 346, "title": {"text": "2003 Export Level", "dx": 7},
 "layer": [
  {"data": {"name": "merges"}, "transform": [{"filter": "datum.p == 'F'"}], "mark": {"type": "rule", "color": "black", "strokeWidth": 1},
   "encoding": {"x": {"field": "xl", "type": "quantitative", "scale": {"domain": [0.08, 24.283], "nice": false, "zero": false}, "axis": null}, "x2": {"field": "xr"},
    "y": {"field": "h", "type": "quantitative", "scale": {"domain": [-0.9982, 2.1616], "nice": false, "zero": false}, "axis": {"values": [0, 0.5, 1, 1.5, 2], "labels": true, "labelAngle": 270, "labelAlign": "center", "labelBaseline": "alphabetic", "labelPadding": 9, "format": ".1f", "labelFlush": false, "labelOverlap": false, "title": null}}}},
  {"data": {"name": "merges"}, "transform": [{"filter": "datum.p == 'F'"}], "mark": {"type": "rule", "color": "black", "strokeWidth": 1},
   "encoding": {"x": {"field": "xl", "type": "quantitative", "axis": null}, "y": {"field": "hl", "type": "quantitative", "title": null}, "y2": {"field": "h"}}},
  {"data": {"name": "merges"}, "transform": [{"filter": "datum.p == 'F'"}], "mark": {"type": "rule", "color": "black", "strokeWidth": 1},
   "encoding": {"x": {"field": "xr", "type": "quantitative", "axis": null}, "y": {"field": "hr", "type": "quantitative", "title": null}, "y2": {"field": "h"}}},
  {"data": {"name": "boxes"}, "transform": [{"filter": "datum.p == 'F'"}], "mark": {"type": "rect", "filled": false, "color": "#FF0000", "strokeWidth": 1, "clip": true},
   "encoding": {"x": {"field": "a", "type": "quantitative", "axis": null}, "x2": {"field": "b"}, "y": {"field": "top", "type": "quantitative", "title": null}, "y2": {"datum": -0.9772}}},
  {"data": {"name": "leaves"}, "transform": [{"filter": "datum.p == 'F'"}], "mark": {"type": "text", "angle": 270, "align": "right", "baseline": "middle", "yOffset": 10, "fontSize": 12.7, "color": "black", "font": "Liberation Sans"},
   "encoding": {"x": {"field": "i", "type": "quantitative", "axis": null}, "y": {"datum": 0, "type": "quantitative", "title": null}, "text": {"field": "name"}}},
  {"data": {"name": "axes"}, "transform": [{"filter": "datum.p == 'F'"}], "mark": {"type": "rule", "color": "black", "strokeWidth": 1},
   "encoding": {"x": {"datum": 0.08, "type": "quantitative", "axis": null}, "y": {"field": "top", "type": "quantitative", "title": null}, "y2": {"datum": 0}}}
 ]},
{"width": 545.5, "height": 346, "title": {"text": "2013 Import Level"},
 "layer": [
  {"data": {"name": "merges"}, "transform": [{"filter": "datum.p == 'G'"}], "mark": {"type": "rule", "color": "black", "strokeWidth": 1},
   "encoding": {"x": {"field": "xl", "type": "quantitative", "scale": {"domain": [0.08, 24.92], "nice": false, "zero": false}, "axis": null}, "x2": {"field": "xr"},
    "y": {"field": "h", "type": "quantitative", "scale": {"domain": [-0.7158, 1.5501], "nice": false, "zero": false}, "axis": {"values": [0, 0.5, 1, 1.5], "labels": false, "title": null}}}},
  {"data": {"name": "merges"}, "transform": [{"filter": "datum.p == 'G'"}], "mark": {"type": "rule", "color": "black", "strokeWidth": 1},
   "encoding": {"x": {"field": "xl", "type": "quantitative", "axis": null}, "y": {"field": "hl", "type": "quantitative", "title": null}, "y2": {"field": "h"}}},
  {"data": {"name": "merges"}, "transform": [{"filter": "datum.p == 'G'"}], "mark": {"type": "rule", "color": "black", "strokeWidth": 1},
   "encoding": {"x": {"field": "xr", "type": "quantitative", "axis": null}, "y": {"field": "hr", "type": "quantitative", "title": null}, "y2": {"field": "h"}}},
  {"data": {"name": "boxes"}, "transform": [{"filter": "datum.p == 'G'"}], "mark": {"type": "rect", "filled": false, "color": "#FF0000", "strokeWidth": 1},
   "encoding": {"x": {"field": "a", "type": "quantitative", "axis": null}, "x2": {"field": "b"}, "y": {"field": "top", "type": "quantitative", "title": null}, "y2": {"datum": -0.7007}}},
  {"data": {"name": "leaves"}, "transform": [{"filter": "datum.p == 'G'"}], "mark": {"type": "text", "angle": 270, "align": "right", "baseline": "middle", "yOffset": 10, "fontSize": 12.7, "color": "black", "font": "Liberation Sans"},
   "encoding": {"x": {"field": "i", "type": "quantitative", "axis": null}, "y": {"datum": 0, "type": "quantitative", "title": null}, "text": {"field": "name"}}},
  {"data": {"name": "axes"}, "transform": [{"filter": "datum.p == 'G'"}], "mark": {"type": "rule", "color": "black", "strokeWidth": 1},
   "encoding": {"x": {"datum": 0.08, "type": "quantitative", "axis": null}, "y": {"field": "top", "type": "quantitative", "title": null}, "y2": {"datum": 0}}}
 ]},
{"width": 531.5, "height": 346, "title": {"text": "2013 Export Level", "dx": 7, "offset": -10.5},
 "layer": [
  {"data": {"name": "merges"}, "transform": [{"filter": "datum.p == 'H'"}], "mark": {"type": "rule", "color": "black", "strokeWidth": 1},
   "encoding": {"x": {"field": "xl", "type": "quantitative", "scale": {"domain": [0.08, 24.283], "nice": false, "zero": false}, "axis": null}, "x2": {"field": "xr"},
    "y": {"field": "h", "type": "quantitative", "scale": {"domain": [-1.3995, 3.0307], "nice": false, "zero": false}, "axis": {"values": [0, 0.5, 1, 1.5, 2, 2.5, 3], "labels": true, "labelAngle": 270, "labelAlign": "center", "labelBaseline": "alphabetic", "labelPadding": 9, "format": ".1f", "labelFlush": false, "labelOverlap": false, "title": null}}}},
  {"data": {"name": "merges"}, "transform": [{"filter": "datum.p == 'H'"}], "mark": {"type": "rule", "color": "black", "strokeWidth": 1},
   "encoding": {"x": {"field": "xl", "type": "quantitative", "axis": null}, "y": {"field": "hl", "type": "quantitative", "title": null}, "y2": {"field": "h"}}},
  {"data": {"name": "merges"}, "transform": [{"filter": "datum.p == 'H'"}], "mark": {"type": "rule", "color": "black", "strokeWidth": 1},
   "encoding": {"x": {"field": "xr", "type": "quantitative", "axis": null}, "y": {"field": "hr", "type": "quantitative", "title": null}, "y2": {"field": "h"}}},
  {"data": {"name": "boxes"}, "transform": [{"filter": "datum.p == 'H'"}], "mark": {"type": "rect", "filled": false, "color": "#FF0000", "strokeWidth": 1, "clip": true},
   "encoding": {"x": {"field": "a", "type": "quantitative", "axis": null}, "x2": {"field": "b"}, "y": {"field": "top", "type": "quantitative", "title": null}, "y2": {"datum": -1.37}}},
  {"data": {"name": "leaves"}, "transform": [{"filter": "datum.p == 'H'"}], "mark": {"type": "text", "angle": 270, "align": "right", "baseline": "middle", "yOffset": 10, "fontSize": 12.7, "color": "black", "font": "Liberation Sans"},
   "encoding": {"x": {"field": "i", "type": "quantitative", "axis": null}, "y": {"datum": 0, "type": "quantitative", "title": null}, "text": {"field": "name"}}},
  {"data": {"name": "axes"}, "transform": [{"filter": "datum.p == 'H'"}], "mark": {"type": "rule", "color": "black", "strokeWidth": 1},
   "encoding": {"x": {"datum": 0.08, "type": "quantitative", "axis": null}, "y": {"field": "top", "type": "quantitative", "title": null}, "y2": {"datum": 0}}}
 ]}
]
}
